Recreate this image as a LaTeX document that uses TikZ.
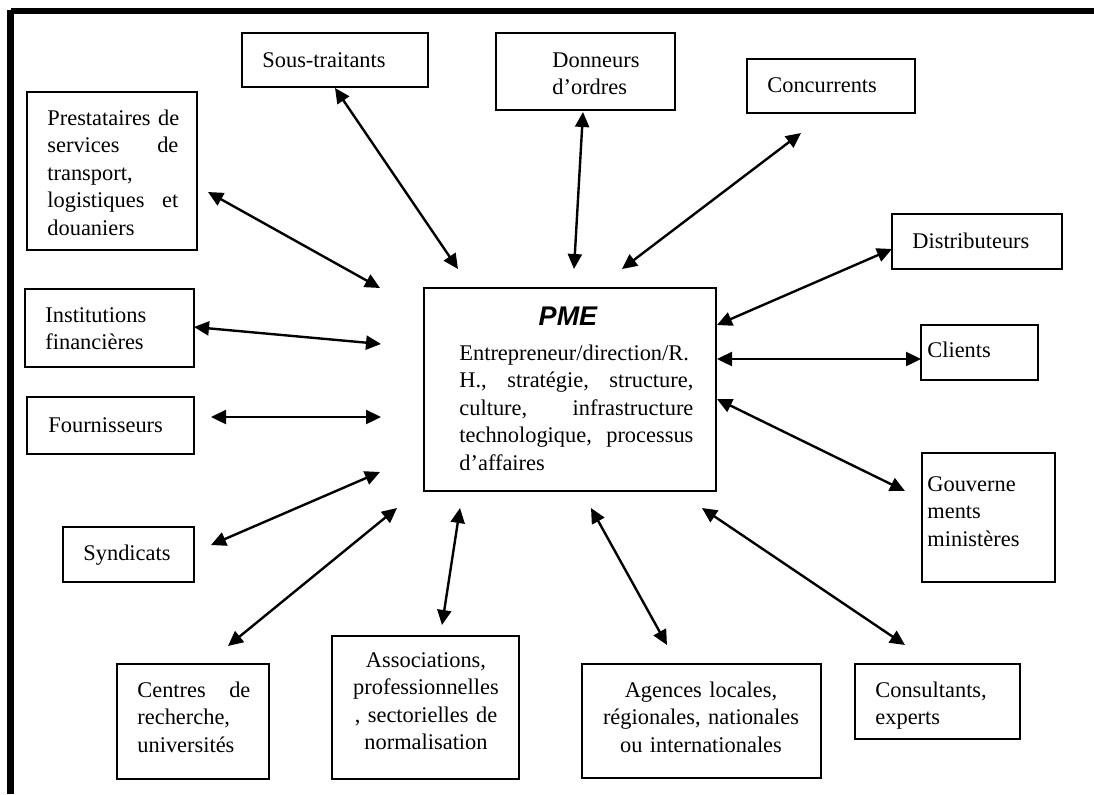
\documentclass[tikz,border=0pt]{standalone}
\usepackage{fontspec}
\setmainfont{Liberation Serif}
\newfontfamily\pmefont{Liberation Sans}
\usetikzlibrary{arrows.meta,fit}
\begin{document}
\begin{tikzpicture}[x=0.5pt,y=-0.5pt,
  box/.style={draw=black,line width=0.9pt,inner sep=0pt},
  txt/.style={inner sep=0pt,anchor=base west,align=left,text width=#1,
    font=\fontsize{11.2}{13.8}\selectfont},
  ctxt/.style={inner sep=0pt,anchor=base,align=center,text width=#1,
    font=\fontsize{11.2}{13.8}\selectfont},
  link/.style={line width=1.2pt,{Triangle[length=7.5pt,width=7pt]}-{Triangle[length=7.5pt,width=7pt]}}]
\useasboundingbox (0,0) rectangle (1094,794);
% frame (top and left only)
\draw[line width=3.2pt] (10.5,11) -- (1094,11);
\draw[line width=3.2pt] (10.5,9.5) -- (10.5,794);
% boxes
\node[box,fit={(242,33) (428,87)}] (st) {};
\node[box,fit={(496,33) (675,110)}] (do) {};
\node[box,fit={(747,59) (915,113)}] (co) {};
\node[box,fit={(27,92) (197,250)}] (pr) {};
\node[box,fit={(892,214) (1062,269)}] (di) {};
\node[box,fit={(25,289) (194,367)}] (in) {};
\node[box,fit={(27,397) (194,454)}] (fo) {};
\node[box,fit={(424,288) (716,491)}] (pme) {};
\node[box,fit={(921,325) (1038,380)}] (cl) {};
\node[box,fit={(922,453) (1055,582)}] (go) {};
\node[box,fit={(63,527) (194,582)}] (sy) {};
\node[box,fit={(117,664) (269,779)}] (ce) {};
\node[box,fit={(332,636) (519,779)}] (as) {};
\node[box,fit={(582,664) (821,778)}] (ag) {};
\node[box,fit={(855,664) (1020,739)}] (cs) {};
% texts
\node[txt=90pt] (tst) at (262,67) {Sous-traitants};
\node[txt=80pt] (tdo) at (552,67) {Donneurs\\d’ordres};
\node[txt=80pt] (tco) at (767,92) {Concurrents};
\node[txt=65.5pt] (tpr) at (47,125) {\mbox{Prestataires de}\\services\hfill de\\transport,\\logistiques\hfill et\\douaniers};
\node[txt=80pt] (tdi) at (912,248) {Distributeurs};
\node[txt=80pt] (tin) at (45,322) {Institutions\\financières};
\node[txt=80pt] (tfo) at (48,432) {Fournisseurs};
\node[inner sep=0pt,anchor=base,font=\pmefont\bfseries\itshape\fontsize{13.5}{15}\selectfont] (tpmet) at (568,325) {PME};
\node[txt=117pt] (tpme) at (459,360) {\mbox{Entrepreneur/direction/R.}\\H.,\hfill stratégie,\hfill structure,\\culture,\hfill infrastructure\\technologique,\hfill processus\\d’affaires};
\node[txt=55pt] (tcl) at (927,357) {Clients};
\node[txt=60pt] (tgo) at (927,491) {Gouverne\\ments\\ministères};
\node[txt=60pt] (tsy) at (83,560) {Syndicats};
\node[txt=56.5pt] (tce) at (137,697) {Centres\hfill de\\recherche,\\universités};
\node[ctxt=90pt] (tas) at (426,667) {Associations,\\professionnelles\\, sectorielles de\\normalisation};
\node[ctxt=115pt] (tag) at (701,697) {Agences locales,\\régionales, nationales\\ou internationales};
\node[txt=75pt] (tcs) at (875,697) {Consultants,\\experts};
% connector end points
\coordinate (a1) at (335,88);  \coordinate (b1) at (458,269);
\coordinate (a2) at (208,192); \coordinate (b2) at (380,288);
\coordinate (a3) at (583,112); \coordinate (b3) at (574,269);
\coordinate (a4) at (801,133); \coordinate (b4) at (622,269);
\coordinate (a5) at (892,249); \coordinate (b5) at (717,325);
\coordinate (a6) at (194,327); \coordinate (b6) at (381,344);
\coordinate (a7) at (211,417); \coordinate (b7) at (381,417);
\coordinate (a8) at (211,545); \coordinate (b8) at (380,472);
\coordinate (a9) at (228,646); \coordinate (b9) at (397,508);
\coordinate (a10) at (442,625); \coordinate (b10) at (460,508);
\coordinate (a11) at (921,359); \coordinate (b11) at (717,359);
\coordinate (a12) at (905,491); \coordinate (b12) at (717,399);
\coordinate (a13) at (667,645); \coordinate (b13) at (591,508);
\coordinate (a14) at (905,645); \coordinate (b14) at (702,508);
\foreach \i in {1,...,14} {\draw[link] (a\i) -- (b\i);}
\end{tikzpicture}
\end{document}
